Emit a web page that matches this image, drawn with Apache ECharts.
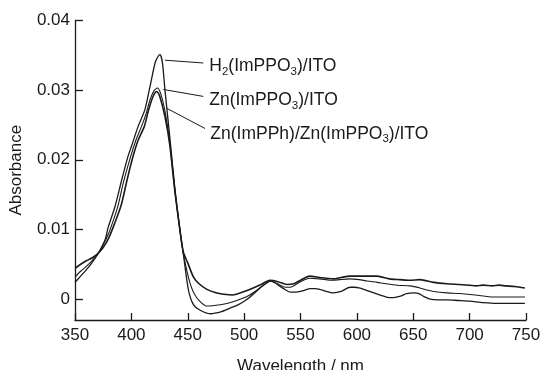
<!DOCTYPE html>
<html>
<head>
<meta charset="utf-8">
<script src="https://cdn.jsdelivr.net/npm/echarts@6/dist/echarts.min.js"></script>
<style>
html,body{margin:0;padding:0;background:#fff;}
#chart{width:543px;height:370px;}
</style>
</head>
<body>
<div id="chart"></div>
<script>
// ---- Data (wavelength in nm, absorbance) ----
const h2Wavelength = [350,355,360,365,370,376.6,379.6,385.5,391.4,397,400,406,412,416.5,421,423.5,425.4,427.5,429.8,434.3,438.7,443,446,450.5,455,461,470,480,487.5,495,502,508,514,519,523,527,532,537,541,546,550,554,558.5,563,567,573,579,586,594,598,602,608,615,620,626,631,635,640,644,651,655,659,665,672,680,690,700,712,724,736,749];
const h2Absorbance = [0.0024,0.0033,0.0042,0.0052,0.0064,0.0085,0.0104,0.0133,0.0171,0.0205,0.0219,0.0248,0.0272,0.0305,0.0339,0.0348,0.0351,0.0340,0.0300,0.0229,0.0157,0.0100,0.0066,0.0014,-0.0008,-0.0016,-0.0021,-0.0018,-0.0013,-0.0008,-0.0001,0.0007,0.0016,0.0022,0.0026,0.0024,0.0018,0.0013,0.0010,0.0010,0.0011,0.0013,0.0015,0.0015,0.0014,0.0011,0.0009,0.0011,0.0017,0.0017,0.0016,0.0013,0.0009,0.0006,0.0003,0.0002,0.0003,0.0005,0.0008,0.0009,0.0008,0.0004,0.0000,-0.0001,-0.0001,-0.0002,-0.0003,-0.0005,-0.0006,-0.0006,-0.0006];

const znWavelength = [350,355,360,365,370,375,380,384,388,393,399.4,404,409,413,416.5,420,423,426,429.8,434,438.7,443,446,452,458,467,479,488,497,505,514,519,523,527,532,537,541,546,550,558,567,579,585,594,602,609,618,626,636,647,656,662,668,680,691,705,721,735,749];
const znAbsorbance = [0.0032,0.0040,0.0047,0.0055,0.0064,0.0078,0.0095,0.0113,0.0133,0.0168,0.0205,0.0228,0.0248,0.0266,0.0286,0.0299,0.0303,0.0295,0.0270,0.0225,0.0155,0.0100,0.0066,0.0023,0.0002,-0.0010,-0.0008,-0.0005,0.0000,0.0006,0.0016,0.0022,0.0026,0.0024,0.0020,0.0017,0.0017,0.0021,0.0025,0.0030,0.0029,0.0027,0.0028,0.0029,0.0028,0.0026,0.0024,0.0022,0.0020,0.0019,0.0016,0.0013,0.0011,0.0009,0.0008,0.0006,0.0003,0.0003,0.0003];

const bilayerWavelength = [350,355,360,365,370,375,380,385,391,396,401.5,406,411.5,415,418,420.5,422.5,425,429.8,434,438.7,443,446,450,455,460,467,475,482,490,497,502,508,515,523,530,538,544,550,558,567,573,579,586,594,606,618,629,638,647,656,668,680,691,700,706,712,720,726,732,740,749];
const bilayerAbsorbance = [0.0044,0.0050,0.0055,0.0059,0.0065,0.0074,0.0088,0.0108,0.0135,0.0170,0.0205,0.0228,0.0248,0.0270,0.0286,0.0295,0.0298,0.0292,0.0262,0.0222,0.0153,0.0100,0.0068,0.0052,0.0032,0.0022,0.0014,0.0009,0.0007,0.0006,0.0009,0.0012,0.0016,0.0021,0.0027,0.0025,0.0021,0.0022,0.0027,0.0033,0.0031,0.0030,0.0029,0.0031,0.0033,0.0033,0.0033,0.0029,0.0028,0.0027,0.0028,0.0024,0.0022,0.0021,0.0020,0.0019,0.0020,0.0019,0.0020,0.0019,0.0018,0.0016];

const seriesNames = ['H2(ImPPO3)/ITO','Zn(ImPPO3)/ITO','Zn(ImPPh)/Zn(ImPPO3)/ITO'];
const seriesLabels = ['H{sub|2}(ImPPO{sub|3})/ITO','Zn(ImPPO{sub|3})/ITO','Zn(ImPPh)/Zn(ImPPO{sub|3})/ITO'];
// leader lines: [start wavelength, start absorbance, end wavelength, end absorbance]
const leaderLines = [
  [429.8,0.0343,463.8,0.0339],
  [428.3,0.0301,463.8,0.0291],
  [431.3,0.0274,465.3,0.0245]
];

const xTicks = {min:350,max:750,interval:50};
const yTicks = {min:-0.003,max:0.04};

function pairs(xs, ys){ return xs.map((x,i)=>[x, ys[i]]); }

const FONT = '"Liberation Sans", Arial, Helvetica, sans-serif';
const INK = '#1a1a1a';

function makeSeries(name, xs, ys, idx, width){
  const l = leaderLines[idx];
  return {
    name: name,
    type: 'line',
    data: pairs(xs, ys),
    showSymbol: false,
    smooth: 0.25,
    lineStyle: {color: INK, width: width},
    z: 3,
    markLine: {
      silent: true,
      symbol: ['none','none'],
      lineStyle: {color: INK, width: 1, type: 'solid'},
      label: {
        show: true,
        position: 'end',
        distance: 6,
        offset: [0, 3],
        formatter: seriesLabels[idx],
        color: INK,
        fontFamily: FONT,
        fontSize: 17.5,
        lineHeight: 22,
        rich: {
          sub: {fontSize: 11.5, fontFamily: FONT, color: INK, verticalAlign: 'bottom', lineHeight: 11}
        }
      },
      emphasis: {disabled: true},
      data: [[{coord: [l[0], l[1]]}, {coord: [l[2], l[3]]}]]
    }
  };
}

const chart = echarts.init(document.getElementById('chart'), null, {renderer: 'canvas'});
chart.setOption({
  animation: false,
  backgroundColor: '#ffffff',
  grid: {left: 75, right: 17, top: 20.5, bottom: 50, containLabel: false, outerBoundsMode: 'none'},
  xAxis: {
    type: 'value',
    min: xTicks.min, max: xTicks.max, interval: xTicks.interval,
    name: 'Wavelength / nm',
    nameLocation: 'middle',
    nameGap: 38,
    nameTextStyle: {fontFamily: FONT, fontSize: 17, color: INK},
    axisLine: {show: true, onZero: false, lineStyle: {color: INK, width: 1.3}},
    axisTick: {show: true, inside: true, length: 7, lineStyle: {color: INK, width: 1.3}},
    axisLabel: {fontFamily: FONT, fontSize: 17, color: INK, margin: 7},
    splitLine: {show: false}
  },
  yAxis: {
    type: 'value',
    min: yTicks.min, max: yTicks.max,
    splitNumber: 5,
    name: 'Absorbance',
    nameLocation: 'middle',
    nameGap: 50,
    nameTextStyle: {fontFamily: FONT, fontSize: 17, color: INK},
    axisLine: {show: true, onZero: false, lineStyle: {color: INK, width: 1.3}},
    axisTick: {show: true, inside: true, length: 8, lineStyle: {color: INK, width: 1.3}},
    axisLabel: {
      fontFamily: FONT, fontSize: 17, color: INK, margin: 5, showMinLabel: false,
      formatter: function(v){ if (v < 0) return ''; return Math.abs(v) < 1e-9 ? '0' : (+v.toFixed(3)).toString(); }
    },
    splitLine: {show: false}
  },
  series: [
    makeSeries(seriesNames[0], h2Wavelength, h2Absorbance, 0, 1.3),
    makeSeries(seriesNames[1], znWavelength, znAbsorbance, 1, 1.1),
    makeSeries(seriesNames[2], bilayerWavelength, bilayerAbsorbance, 2, 1.6)
  ]
});
</script>
</body>
</html>
